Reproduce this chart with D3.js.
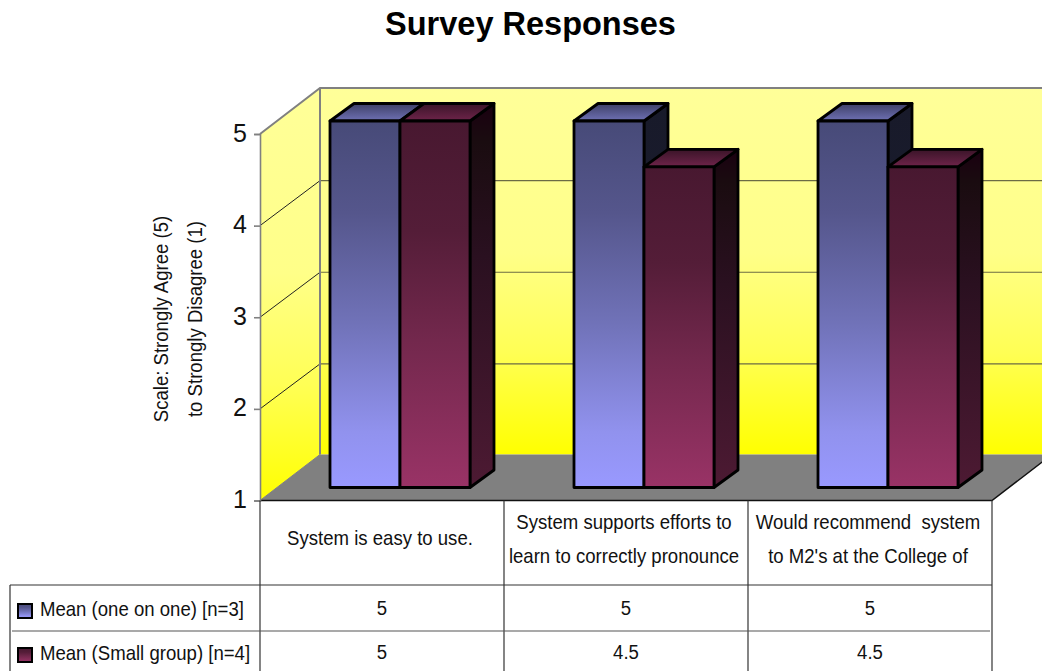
<!DOCTYPE html>
<html><head><meta charset="utf-8">
<script src="https://cdn.jsdelivr.net/npm/d3@7"></script>
<style>html,body{margin:0;padding:0;background:#fff;overflow:hidden}svg{display:block}text{font-family:"Liberation Sans",Arial,sans-serif;fill:#111}</style>
</head><body><svg id="c" width="1042" height="671"></svg>
<script>
const title = "Survey Responses";
const categories = ["System is easy to use.", "System supports efforts to|learn to correctly pronounce", "Would recommend  system|to M2's at the College of"];
const seriesNames = ["Mean (one on one) [n=3]", "Mean (Small group) [n=4]"];
const seriesOne = [5, 5, 5];
const seriesTwo = [5, 4.5, 4.5];
const valueLabelsOne = ["5", "5", "5"];
const valueLabelsTwo = ["5", "4.5", "4.5"];
const tickValues = [1, 2, 3, 4, 5];
const yTitleLines = ["Scale: Strongly Agree (5)", "to Strongly Disagree (1)"];

const svg = d3.select("#c"), defs = svg.append("defs");
function grad(id, stops) {
  const g = defs.append("linearGradient").attr("id", id).attr("x1", 0).attr("y1", 0).attr("x2", 0).attr("y2", 1);
  stops.forEach(([o, c]) => g.append("stop").attr("offset", o).attr("stop-color", c));
}
grad("wall", [[0, "#ffff99"], [0.45, "#ffff88"], [0.72, "#ffff55"], [1, "#ffff00"]]);
grad("blueF", [[0, "#474a78"], [0.25, "#55568c"], [0.55, "#7072b8"], [0.85, "#9192ee"], [1, "#9999ff"]]);
grad("blueS", [[0, "#181a2a"], [1, "#1c1e32"]]);
grad("blueT", [[0, "#3d3f66"], [1, "#6f71b5"]]);
grad("redF", [[0, "#481830"], [0.3, "#541d38"], [0.6, "#73284d"], [1, "#993366"]]);
grad("redS", [[0, "#1a0010"], [0.1, "#1a0c10"], [0.4, "#2a1020"], [1, "#4d1a33"]]);
grad("redT", [[0, "#3a1428"], [1, "#6e244a"]]);

const dx = 60, dy = -46;          // chart box depth
const barDx = 24, barDy = -17.5;  // bar depth
const inset = 13;                 // bars stand this far behind the front floor edge
const y = d3.scaleLinear().domain([1, 5]).range([500.5, 134]);
const x0 = d3.scaleBand().domain(d3.range(categories.length)).range([260, 992]);
const x1 = d3.scaleBand().domain([0, 1]).range([70, 210]);
const W = 1042;
const squeeze = 0.885, fontSize = 21;

const poly = (pts) => pts.map(p => p.join(",")).join(" ");
const g = svg.append("g");

// walls
g.append("polygon").attr("points", poly([[320, y(5) + dy], [W + 10, y(5) + dy], [W + 10, y(1) + dy], [320, y(1) + dy]])).attr("fill", "url(#wall)");
g.append("polygon").attr("points", poly([[260, y(5)], [260 + dx, y(5) + dy], [260 + dx, y(1) + dy], [260, y(1)]])).attr("fill", "url(#wall)");
// floor
g.append("polygon").attr("points", poly([[260, y(1)], [992, y(1)], [992 + dx, y(1) + dy], [260 + dx, y(1) + dy]])).attr("fill", "#808080");
// grid
tickValues.slice(1, 4).forEach(v => {
  g.append("line").attr("x1", 260).attr("y1", y(v)).attr("x2", 320).attr("y2", y(v) + dy + 1).attr("stroke", "#222").attr("stroke-width", 1);
  g.append("line").attr("x1", 320).attr("y1", y(v) + dy + 1).attr("x2", W).attr("y2", y(v) + dy + 1).attr("stroke", "#6b6b45").attr("stroke-width", 1.2);
});
// wall edges
g.append("path").attr("d", `M260,${y(5)}L320,${y(5) + dy}L${W},${y(5) + dy}M320,${y(5) + dy}V${y(1) + dy}`).attr("fill", "none").attr("stroke", "#808080").attr("stroke-width", 2);
g.append("path").attr("d", `M260,${y(1)}L320,${y(1) + dy}`).attr("fill", "none").attr("stroke", "#808080").attr("stroke-width", 1);
g.append("path").attr("d", `M260,${y(1)}H992L${992 + dx},${y(1) + dy}`).attr("fill", "none").attr("stroke", "#111").attr("stroke-width", 1.5);

// bars
const series = [{ v: seriesOne, k: "blue" }, { v: seriesTwo, k: "red" }];
categories.forEach((_, i) => {
  series.forEach((s, j) => {
    const l = x0(i) + x1(j), r = l + x1.bandwidth(), t = y(s.v[i]) - inset, b = y(1) - inset;
    const bar = g.append("g").attr("stroke", "#000").attr("stroke-width", 2.8).attr("stroke-linejoin", "round");
    bar.append("polygon").attr("points", poly([[r, t], [r + barDx, t + barDy], [r + barDx, b + barDy], [r, b]])).attr("fill", `url(#${s.k}S)`);
    bar.append("polygon").attr("points", poly([[l, t], [l + barDx, t + barDy], [r + barDx, t + barDy], [r, t]])).attr("fill", `url(#${s.k}T)`);
    bar.append("rect").attr("x", l).attr("y", t).attr("width", r - l).attr("height", b - t).attr("fill", `url(#${s.k}F)`);
  });
});

// axis
const axis = svg.append("g").attr("transform", "translate(260,0)").call(d3.axisLeft(y).tickValues(tickValues).tickSize(6).tickPadding(7).tickFormat(d3.format("d")));
axis.selectAll("path,line").attr("stroke", "#808080").attr("stroke-width", 1.6);
axis.selectAll("text").attr("font-size", 25).attr("fill", "#111").attr("dy", "0.28em");
axis.attr("font-family", null);

function label(px, py, txt, size, anchor, sx) {
  return svg.append("text").attr("transform", `translate(${px},${py}) scale(${sx},1)`).attr("text-anchor", anchor).attr("font-size", size).style("white-space", "pre").text(txt);
}
svg.append("text").attr("x", 530.5).attr("y", 35).attr("text-anchor", "middle").attr("font-size", 32.5).attr("font-weight", "bold").style("fill", "#000").text(title);

// y title
yTitleLines.forEach((t, i) => {
  svg.append("text").attr("transform", `translate(${168 + i * 34},319) rotate(-90) scale(${squeeze},1)`).attr("text-anchor", "middle").attr("font-size", fontSize).text(t);
});

// table
const tl = svg.append("g").attr("stroke", "#333").attr("stroke-width", 1.2);
const cuts = x0.domain().map(d => x0(d)).concat([x0.range()[1]]);
cuts.forEach(c => tl.append("line").attr("x1", c).attr("x2", c).attr("y1", y(1)).attr("y2", 671));
tl.append("line").attr("x1", 10).attr("x2", 992).attr("y1", 585).attr("y2", 585);
tl.append("line").attr("x1", 12).attr("x2", 990).attr("y1", 631).attr("y2", 631).attr("stroke", "#555");
tl.append("line").attr("x1", 10).attr("x2", 10).attr("y1", 585).attr("y2", 671);

const cx = i => x0(i) + x0.bandwidth() / 2;
categories.forEach((c, i) => {
  const lines = c.split("|");
  lines.forEach((t, k) => label(cx(i) - 2, (lines.length === 1 ? 545 : 529) + k * 34, t, fontSize, "middle", squeeze));
});
[valueLabelsOne, valueLabelsTwo].forEach((vals, r) => {
  vals.forEach((t, i) => label(cx(i), 615 + r * 44, t, fontSize, "middle", squeeze));
  const yy = 604 + r * 44;
  svg.append("rect").attr("x", 18).attr("y", yy).attr("width", 14).attr("height", 14).attr("fill", `url(#${series[r].k}F)`).attr("stroke", "#000").attr("stroke-width", 2);
  label(40, 616 + r * 44, seriesNames[r], fontSize, "start", squeeze);
});
</script></body></html>
